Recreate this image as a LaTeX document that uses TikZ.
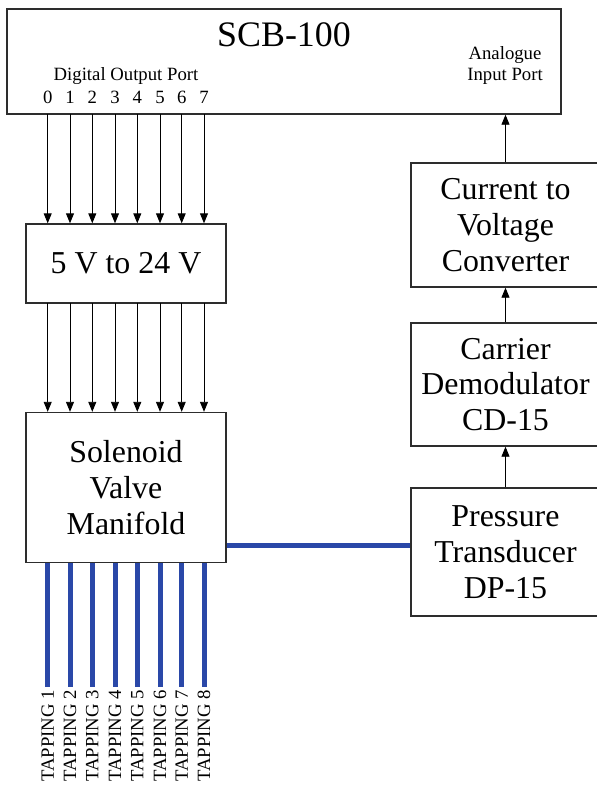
\documentclass[tikz,border=0pt]{standalone}
\usepackage{fontspec}
\setmainfont{Liberation Serif}
\usetikzlibrary{arrows.meta}
\definecolor{pipe}{RGB}{42,72,168}
\definecolor{edge}{RGB}{45,45,45}
\tikzset{
  box/.style={draw=edge, line width=1.4bp, fill=white, inner sep=0pt, align=center,
    font=\fontsize{32}{36}\selectfont},
  sig/.style={draw=black, line width=0.9bp, -{Triangle[length=10bp,width=8bp]}},
  tube/.style={draw=pipe, line width=5bp},
  small/.style={font=\fontsize{18.8}{21}\selectfont, inner sep=0pt},
}
\begin{document}
\begin{tikzpicture}[x=1bp,y=-1bp]
\useasboundingbox (0,0) rectangle (597,789);
% boxes
\node[box, minimum width=554bp, minimum height=105bp] (scb) at (284,61.5) {};
\node[anchor=base, inner sep=0pt, font=\fontsize{36}{40}\selectfont] (title) at (284,47) {SCB-100};
\node[small, anchor=base] (dop) at (126,80) {Digital Output Port};
\node[small, anchor=base, align=center] (aip) at (505,80) {Analogue\\Input Port};
\node[box, minimum width=200bp, minimum height=79bp] (conv) at (126,263.5) {5 V to 24 V};
\node[box, minimum width=200bp, minimum height=150bp] (sol) at (126,487.5) {Solenoid\\Valve\\Manifold};
\node[box, minimum width=189bp, minimum height=124bp] (cvc) at (505.5,225) {Current to\\Voltage\\Converter};
\node[box, minimum width=189bp, minimum height=123bp] (cd) at (505.5,384.5) {Carrier\\Demodulator\\CD-15};
\node[box, minimum width=189bp, minimum height=128bp] (pt) at (505.5,552) {Pressure\\Transducer\\DP-15};
% digital lines
\foreach \i/\x in {0/47.7,1/70,2/92.3,3/115,4/137.3,5/160,6/181.7,7/204}{
  \node[small, anchor=base] (d\i) at (\x,103) {\i};
  \coordinate (o\i) at (\x,114);
  \coordinate (v\i) at (\x,303);
  \coordinate (t\i) at (\x,687);
  \draw[sig] (o\i) -- (o\i |- conv.north);
  \draw[sig] (v\i) -- (v\i |- sol.north);
  \draw[tube] (v\i |- sol.south) -- (t\i);
}
\foreach \i/\x in {1/47.7,2/70,3/92.3,4/115,5/137.3,6/160,7/181.7,8/204}{
  \node[small, rotate=90, anchor=east] (tap\i) at (\x,690) {TAPPING \i};
}
% right chain
\draw[sig] (pt.north) -- (cd.south);
\draw[sig] (cd.north) -- (cvc.south);
\draw[sig] (cvc.north) -- (cvc.north |- scb.south);
\draw[tube] (sol.east |- 0,545) -- (pt.west |- 0,545);
\end{tikzpicture}
\end{document}
